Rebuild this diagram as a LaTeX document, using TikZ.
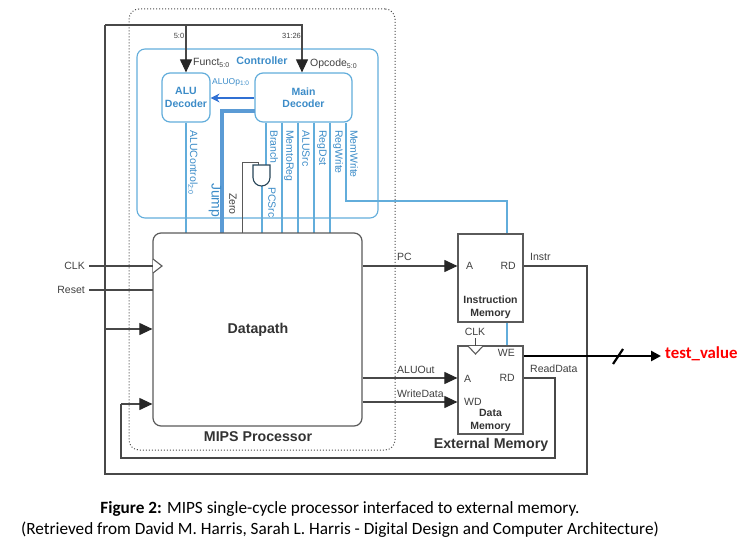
\documentclass[tikz,border=0pt]{standalone}
\usepackage{fontspec}
\setmainfont{Liberation Sans}
\newfontfamily\capfont{Carlito}
\usepackage{xcolor}
\usetikzlibrary{arrows.meta,positioning}
\definecolor{ctlblue}{HTML}{62ADDB}
\definecolor{ctltext}{HTML}{3C8CC8}
\definecolor{jumpblue}{HTML}{5B9BD5}
\definecolor{wirecol}{HTML}{484848}
\definecolor{boxcol}{HTML}{5A5A5A}
\newcommand{\subtxt}[1]{\raisebox{-0.35ex}{\fontsize{7}{7}\selectfont #1}}
\tikzset{
  block/.style={draw=boxcol,line width=1.2pt,fill=white,rounded corners=8pt,inner sep=0pt},
  memblock/.style={draw=boxcol,line width=1.2pt,fill=white,inner sep=0pt,minimum width=65pt,minimum height=88pt},
  decoder/.style={draw=ctlblue,line width=1.2pt,fill=white,rounded corners=8pt,inner sep=0pt,minimum height=49pt,
    text=ctltext,font=\fontsize{10.5}{12.5}\selectfont\bfseries,align=center},
  wire/.style={draw=wirecol,line width=1.05pt},
  arrowwire/.style={wire,-{Triangle[length=13pt,width=12pt,color=black!85]}},
  ctl/.style={draw=ctlblue,line width=1.1pt},
  lbl/.style={font=\fontsize{10.5}{12}\selectfont,text=black!75,inner sep=0pt},
  blbl/.style={font=\fontsize{14.2}{16}\selectfont\bfseries,text=black!80,align=center,inner sep=0pt},
  memlbl/.style={blbl,font=\fontsize{10.5}{13}\selectfont\bfseries},
  vlbl/.style={lbl,text=ctltext,rotate=-90,anchor=west},
  caplbl/.style={font=\capfont\fontsize{17.2}{20}\selectfont,text=black,inner sep=0pt},
}
\begin{document}
\begin{tikzpicture}[x=1pt,y=-1pt]
\useasboundingbox (0,0) rectangle (743,553);

% MIPS processor frame and controller
\node[draw=black!70,dotted,line width=1pt,rounded corners=10pt,minimum width=266pt,minimum height=441pt,inner sep=0pt] (mips) at (262,229.5) {};
\node[draw=ctlblue,line width=1.1pt,rounded corners=8pt,minimum width=241pt,minimum height=169pt,inner sep=0pt] (ctrl) at (257.5,133.5) {};
\node[decoder,minimum width=48pt] (alu) at (186,97.5) {ALU\\Decoder};
\node[decoder,minimum width=97pt] (main) at (303.5,97.5) {Main\\Decoder};

% blocks
\coordinate (clkin) at (89,266);
\coordinate (rstin) at (89,290);
\coordinate (wrapl) at (105,474);
\coordinate (wrapt) at (105,25);
\coordinate (wrapr) at (587,474);
\coordinate (rdl) at (121,458);
\coordinate (rdr) at (555,458);
\coordinate (mwturn) at (507,201);
\coordinate (pcsrc) at (262,234);
\coordinate (brline) at (266,165);
\coordinate (mtr) at (282,234);
\coordinate (asrc) at (298,234);
\coordinate (rdst) at (314,234);
\coordinate (rwr) at (330,234);
\coordinate (mwr) at (346,201);
\coordinate (jmp) at (222,234);
\coordinate (zro) at (242,234);
\coordinate (zrot) at (258,162);
\coordinate (optop) at (302,25);

% control lines run behind the memories
\draw[ctl] (main.south -| mwr) -- (mwr) -- (mwturn) -- (507,346);
\draw[ctl] (alu.south) -- (alu.south |- zro);
\draw[ctl] (main.south -| brline) -- (brline);
\draw[ctl] (main.south -| mtr) -- (mtr);
\draw[ctl] (main.south -| asrc) -- (asrc);
\draw[ctl] (main.south -| rdst) -- (rdst);
\draw[ctl] (main.south -| rwr) -- (rwr);
\draw[draw=jumpblue,line width=3.6pt] (255,111) -| (jmp);
\draw[draw=ctltext!80!blue,-{Stealth[length=9pt,width=9pt]},line width=1.1pt] (main.west |- 0,98) -- (alu.east |- 0,98);

% and gate
\draw[draw=black!65,line width=0.9pt] (zro) |- (zrot) -- (258,165);
\draw[ctl] (pcsrc |- 0,186) -- (pcsrc);
\draw[draw=black!60!ctlblue,line width=1.1pt,fill=white] (253,165) -- (270,165) -- (270,177.5) arc[start angle=0,end angle=180,x radius=8.5,y radius=8.5] -- cycle;

\node[block,minimum width=209pt,minimum height=193pt] (dp) at (257.5,329.5) {};
\node[memblock] (imem) at (490.5,278) {};
\node[memblock] (dmem) at (490.5,390) {};

% processor inputs
\draw[wire] (clkin) -- (153,266);
\draw[wire] (rstin) -- (153,290);
\draw[draw=boxcol,line width=1.1pt,fill=white] (153,259) -- (162,266) -- (153,273);
\draw[draw=boxcol,line width=1.1pt,fill=white] (468,346) -- (475.5,354) -- (483,346);
\draw[wire] (475.5,338) -- (475.5,346);

% wrap-around wires
\draw[wire] (imem.east |- 0,266) -| (wrapr) -- (wrapl) -- (wrapt);
\draw[arrowwire] (alu.north |- wrapt) -- (alu.north);
\draw[arrowwire] (wrapt) -| (main.north -| optop);
\draw[arrowwire] (105,329) -- (dp.west |- 0,329);
\draw[wire] (dmem.east |- 0,378) -| (rdr) -- (rdl) -- (121,404);
\draw[arrowwire] (121,404) -- (dp.west |- 0,404);
\draw[arrowwire] (dp.east |- 0,266) -- (imem.west |- 0,266);
\draw[arrowwire] (dp.east |- 0,378) -- (dmem.west |- 0,378);
\draw[arrowwire] (dp.east |- 0,402) -- (dmem.west |- 0,402);

% test output
\coordinate (probe) at (661,356);
\draw[line width=2.6pt,-{Triangle[length=10pt,width=10pt]}] (dmem.east |- probe) -- (probe);
\draw[line width=2.2pt] (613,364) -- (623,349);

% labels
\node[lbl,anchor=east] (lclk) at (85,266) {CLK};
\node[lbl,anchor=east] (lrst) at (85,290) {Reset};
\node[lbl,font=\fontsize{7.5}{8}\selectfont] (l50) at (179,35.5) {5:0};
\node[lbl,font=\fontsize{7.5}{8}\selectfont] (l3126) at (291.5,35.5) {31:26};
\node[lbl,anchor=west] (lfunct) at (193,63) {Funct\subtxt{5:0}};
\node[lbl,anchor=west] (lop) at (310,64) {Opcode\subtxt{5:0}};
\node[blbl,font=\fontsize{10.7}{12}\selectfont\bfseries,text=ctltext] (lctrl) at (262,61) {Controller};
\node[lbl,anchor=west,text=ctltext,font=\fontsize{8.5}{10}\selectfont] (laluop) at (212,82) {ALUOp\raisebox{-0.35ex}{\fontsize{6.5}{7}\selectfont 1:0}};
\node[vlbl] (lctl) at (193,130) {ALUControl\subtxt{2:0}};
\node[vlbl,font=\fontsize{14}{15}\selectfont] (ljump) at (215,183) {Jump};
\node[vlbl,text=black!75] (lzero) at (233,193) {Zero};
\node[vlbl] (lbr) at (274,130) {Branch};
\node[vlbl] (lpcs) at (272,187) {PCSrc};
\node[vlbl] (lmtr) at (289,130) {MemtoReg};
\node[vlbl] (lasrc) at (306,130) {ALUSrc};
\node[vlbl] (lrdst) at (322,130) {RegDst};
\node[vlbl] (lrwr) at (338,130) {RegWrite};
\node[vlbl] (lmwr) at (354,130) {MemWrite};
\node[blbl] (ldp) at (258,330) {Datapath};
\node[blbl] (lmips) at (258,437) {MIPS Processor};
\node[blbl] (lext) at (491,445) {External Memory};
\node[lbl,anchor=west] (lpc) at (397,257) {PC};
\node[lbl,anchor=west] (lalu) at (397,370) {ALUOut};
\node[lbl,anchor=west] (lwd) at (397,394) {WriteData};
\node[lbl,anchor=west] (lia) at (466,266) {A};
\node[lbl,anchor=east] (lird) at (516,266) {RD};
\node[lbl,anchor=west] (linstr) at (530,257) {Instr};
\node[memlbl] (limem) at (490.5,307) {Instruction\\Memory};
\node[lbl] (ldclk) at (475,332) {CLK};
\node[lbl,anchor=east] (lwe) at (515,353) {WE};
\node[lbl,anchor=west] (lda) at (464,379) {A};
\node[lbl,anchor=east] (ldrd) at (515,378) {RD};
\node[lbl,anchor=west] (ldwd) at (464,402) {WD};
\node[lbl,anchor=west] (lrddata) at (530,369) {ReadData};
\node[memlbl] (ldmem) at (490.5,420) {Data\\Memory};
\node[anchor=west,inner sep=0pt,text=red,font=\capfont\fontsize{16.8}{18}\selectfont\bfseries] (ltest) at (665,354) {test\_value};
\node[caplbl] (lcap1) at (340,509) {\textbf{Figure 2:} MIPS single-cycle processor interfaced to external memory.};
\node[caplbl] (lcap2) at (340,530) {(Retrieved from David M. Harris, Sarah L. Harris - Digital Design and Computer Architecture)};
\end{tikzpicture}
\end{document}
